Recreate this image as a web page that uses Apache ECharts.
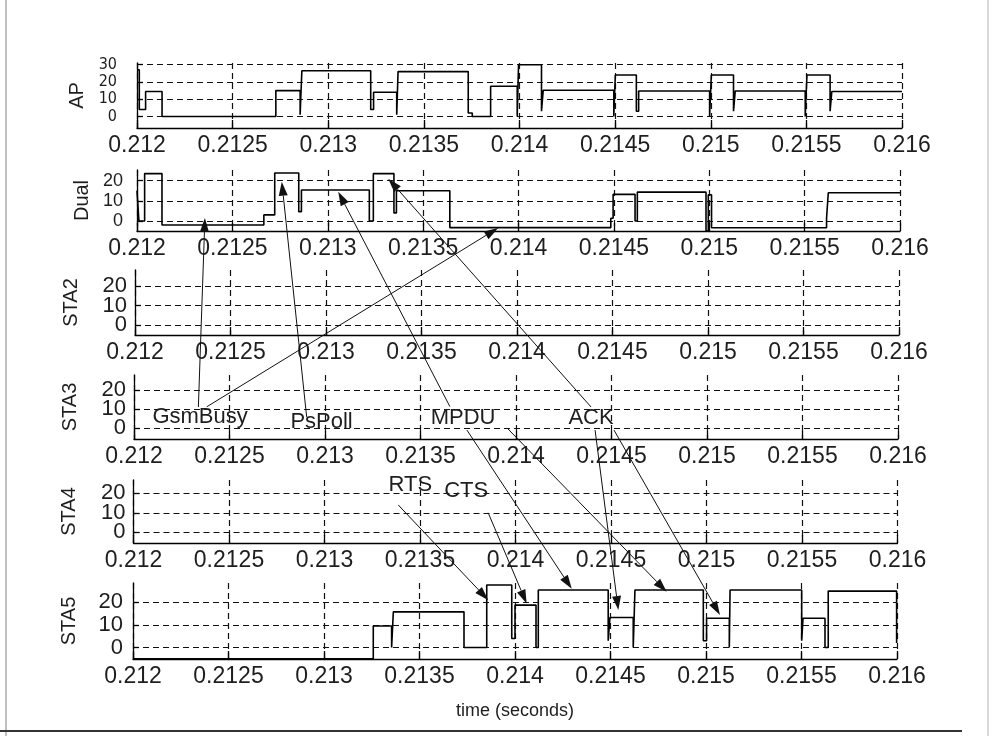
<!DOCTYPE html>
<html><head><meta charset="utf-8">
<script src="https://cdn.jsdelivr.net/npm/echarts@6/dist/echarts.min.js"></script>
<style>html,body{margin:0;padding:0;background:#fff}#c{width:992px;height:736px}</style>
</head><body><div id="c"></div>
<script>
// ---------- data ----------
const panelNames = ['AP', 'Dual', 'STA2', 'STA3', 'STA4', 'STA5'];
const xMin = 0.212, xMax = 0.216, xStep = 0.0005;
const yTicksAP = [0, 10, 20, 30];
const yTicksSTA = [0, 10, 20];

const apTimes = [0.212000, 0.212012, 0.212045, 0.212131, 0.212726, 0.212853, 0.212862, 0.213222, 0.213237, 0.213358, 0.213365, 0.213732, 0.213753, 0.213849, 0.213988, 0.213995, 0.214115, 0.214124, 0.214493, 0.214501, 0.214611, 0.214623, 0.214994, 0.215003, 0.215119, 0.215128, 0.215494, 0.215503, 0.215624, 0.215633, 0.216000];
const apValues = [27, 4, 14.5, 0, 15, 1, 26.5, 4, 14, 1, 26, 2, 0, 17.5, 0, 30, 3, 15.2, 0, 24, 3, 14.8, 0, 24, 3, 14.8, 0, 24, 3, 14.5, 14.5];

const dualTimes = [0.212000, 0.212010, 0.212040, 0.212131, 0.212665, 0.212722, 0.212848, 0.212862, 0.213218, 0.213239, 0.213347, 0.213360, 0.213640, 0.214484, 0.214496, 0.214611, 0.214623, 0.214983, 0.214995, 0.215012, 0.215615, 0.215624, 0.216000];
const dualValues = [15, 0, 23.5, -2, 3, 23.8, 4.6, 15.4, 0, 23.5, 4, 15, -3.3, 1.3, 13.2, 0, 14.3, -5, 13, -3.4, 1.3, 14, 14];

const sta5Times = [0.212000, 0.213258, 0.213354, 0.213363, 0.213733, 0.213852, 0.213983, 0.214000, 0.214110, 0.214122, 0.214488, 0.214497, 0.214619, 0.214628, 0.214986, 0.215003, 0.215122, 0.215126, 0.215501, 0.215508, 0.215623, 0.215640, 0.215998, 0.216000];
const sta5Values = [-5, 9.5, 0, 15.8, 0, 27.7, 4, 18.8, 0, 25.5, 3, 13.3, 0, 25.5, 3, 13, 0, 25.5, 3, 13, 0, 25, 2, 2];

// annotation labels: [text, panel, time, value]
const noteLabels = [
  ['GsmBusy', 3, 0.212346, 5.9],
  ['PsPoll', 3, 0.212982, 3.6],
  ['MPDU', 3, 0.213723, 5.7],
  ['ACK', 3, 0.214393, 5.4],
  ['RTS', 4, 0.213449, 24],
  ['CTS', 4, 0.213742, 21]
];
// arrows: [fromPanel, fromTime, fromValue, toPanel, toTime, toValue]
const noteArrows = [
  [3, 0.212337, 11.2, 1, 0.212356, 1.5],
  [3, 0.212381, 11.3, 1, 0.213893, -3.5],
  [3, 0.212904, 6, 1, 0.212759, 19.5],
  [3, 0.213654, 11.4, 1, 0.213055, 14.5],
  [3, 0.214393, 11.2, 1, 0.213317, 21],
  [3, 0.213743, -0.9, 5, 0.214297, 26],
  [3, 0.213953, 0.2, 5, 0.214794, 24.7],
  [3, 0.214414, -0.9, 5, 0.214541, 16.6],
  [3, 0.214513, -0.9, 5, 0.215073, 14.4],
  [4, 0.213386, 14, 5, 0.213860, 21],
  [4, 0.213857, 10, 5, 0.214061, 19.5]
];

// ---------- layout ----------
const S = 1e4; // x in units of 0.1 ms
const grids = [
  {left: 137, right: 90, top: 63, height: 65, min: -6.7, max: 31, gap: 24, yfs: 16, ym: 20},
  {left: 137, right: 92, top: 170, height: 61, min: -5, max: 25.3, gap: 25, yfs: 18, ym: 14},
  {left: 135, right: 93, top: 270, height: 65, min: -5, max: 28, gap: 54, yfs: 22, ym: 8},
  {left: 134, right: 94, top: 375, height: 64, min: -5.6, max: 28, gap: 54, yfs: 22, ym: 8},
  {left: 133.5, right: 94.5, top: 480, height: 63, min: -5.4, max: 26.7, gap: 54, yfs: 22, ym: 8},
  {left: 133, right: 95, top: 583, height: 76, min: -5.1, max: 28.6, gap: 54, yfs: 22, ym: 10}
];
const FONT = '"Liberation Sans", Arial, sans-serif';
const TXT = '#1e1e1e';

const fmtX = v => String(Number((v / S).toFixed(4)));
const toPairs = (ts, vs) => ts.map((t, i) => [t * S, vs[i]]);
const famFor = i => i === 0 ? '"Liberation Sans Narrow", "DejaVu Sans Condensed", sans-serif' : FONT;

// main y axes (ticks, grid lines, name); labels split between two axes so none get dropped
const mainY = grids.map((g, i) => {
  const ticks = i === 0 ? yTicksAP : yTicksSTA;
  const labelVals = i < 2 ? ticks : ticks.filter((v, k) => k % 2 === 0);
  return {
    type: 'value', gridIndex: i, min: g.min, max: g.max,
    axisLine: {show: true, lineStyle: {color: '#000', width: 1.3}},
    axisTick: {show: true, inside: true, length: 6, customValues: ticks, lineStyle: {color: '#000', width: 1.3}},
    axisLabel: {customValues: labelVals, showMinLabel: true, showMaxLabel: true, hideOverlap: false,
      margin: g.ym, color: TXT, fontSize: g.yfs, fontFamily: famFor(i)},
    splitLine: {show: true, lineStyle: {color: '#111', type: [6, 4], width: 1.2}},
    name: panelNames[i], nameLocation: 'middle', nameRotate: 90, nameGap: g.gap,
    nameTextStyle: {color: TXT, fontSize: 20, fontFamily: FONT}
  };
});
const extraY = grids.slice(2).map((g, k) => ({
  type: 'value', gridIndex: k + 2, min: g.min, max: g.max, position: 'left', offset: 0,
  axisLine: {show: false}, axisTick: {show: false}, splitLine: {show: false},
  axisLabel: {customValues: yTicksSTA.filter((v, j) => j % 2 === 1), showMinLabel: true, showMaxLabel: true,
    margin: g.ym, color: TXT, fontSize: g.yfs, fontFamily: FONT}
}));

const option = {
  backgroundColor: '#fff',
  animation: false,
  grid: grids.map(g => ({left: g.left, right: g.right, top: g.top, height: g.height})),
  xAxis: grids.map((g, i) => ({
    type: 'value', gridIndex: i, min: xMin * S, max: xMax * S, interval: xStep * S,
    axisLine: {show: true, onZero: false, lineStyle: {color: '#000', width: 1.3}},
    axisTick: {show: true, inside: true, length: 8, lineStyle: {color: '#000', width: 1.3}},
    axisLabel: {formatter: fmtX, color: TXT, fontSize: 23, fontFamily: FONT, margin: 6,
      showMinLabel: true, showMaxLabel: true, hideOverlap: false},
    splitLine: {show: true, lineStyle: {color: '#111', type: [6, 4], width: 1.2}},
    name: i === 5 ? 'time (seconds)' : '', nameLocation: 'middle', nameGap: 43,
    nameTextStyle: {color: TXT, fontSize: 18, fontFamily: FONT}
  })),
  yAxis: mainY.concat(extraY),
  series: [
    [0, apTimes, apValues], [1, dualTimes, dualValues], [5, sta5Times, sta5Values]
  ].map(([gi, ts, vs]) => ({
    type: 'line', xAxisIndex: gi, yAxisIndex: gi, step: 'end', symbol: 'none',
    data: toPairs(ts, vs), lineStyle: {color: '#000', width: 1.6}, z: 5
  }))
};

const chart = echarts.init(document.getElementById('c'), null, {renderer: 'canvas'});
chart.setOption(option);

// ---------- annotations ----------
const px = (p, t, v) => chart.convertToPixel({xAxisIndex: p, yAxisIndex: p}, [t * S, v]);
const graphics = [];
noteArrows.forEach(a => {
  const f = px(a[0], a[1], a[2]);
  const t = px(a[3], a[4], a[5]);
  const dx = t[0] - f[0], dy = t[1] - f[1];
  const L = Math.hypot(dx, dy), ux = dx / L, uy = dy / L;
  const hl = 14, hw = 4.5;
  const bx = t[0] - ux * hl, by = t[1] - uy * hl;
  graphics.push({type: 'line', z: 20, shape: {x1: f[0], y1: f[1], x2: bx, y2: by},
    style: {stroke: '#111', lineWidth: 1}});
  graphics.push({type: 'polygon', z: 20, shape: {points: [
    [t[0], t[1]], [bx - uy * hw, by + ux * hw], [bx + uy * hw, by - ux * hw]]},
    style: {fill: '#111'}});
});
noteLabels.forEach(l => {
  const p = px(l[1], l[2], l[3]);
  graphics.push({type: 'text', z: 21, x: p[0], y: p[1], style: {text: l[0], fill: TXT,
    font: '22px "Liberation Sans", Arial, sans-serif', align: 'center', verticalAlign: 'middle'}});
});
// page frame
graphics.push({type: 'line', z: 1, shape: {x1: 6, y1: 0, x2: 6, y2: 736}, style: {stroke: '#aaa', lineWidth: 1.5}});
graphics.push({type: 'line', z: 1, shape: {x1: 988, y1: 0, x2: 988, y2: 736}, style: {stroke: '#ccc', lineWidth: 1.5}});
graphics.push({type: 'line', z: 1, shape: {x1: 0, y1: 731, x2: 962, y2: 731}, style: {stroke: '#333', lineWidth: 2}});
chart.setOption({graphic: graphics});
</script>
</body></html>
